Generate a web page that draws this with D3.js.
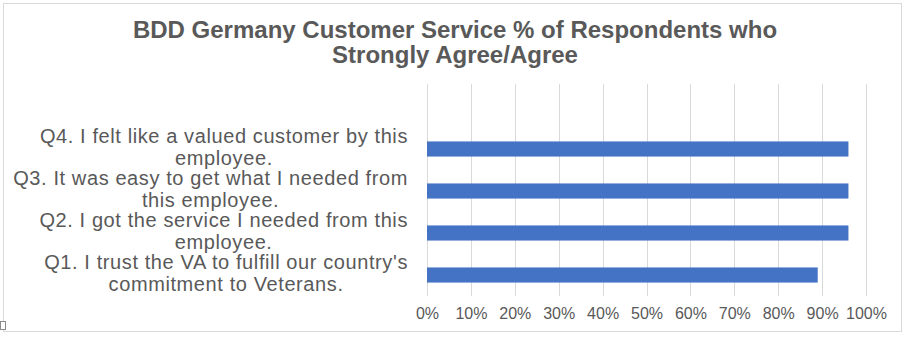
<!DOCTYPE html>
<html>
<head>
<meta charset="utf-8">
<script src="https://cdn.jsdelivr.net/npm/d3@7"></script>
<style>
  body { margin: 0; background: #fff; }
  text { font-family: "Liberation Sans", Arial, sans-serif; fill: #595959; }
</style>
</head>
<body>
<div id="chart"></div>
<script>
// data
const categories = [
  "Q1. I trust the VA to fulfill our country's|commitment to Veterans.",
  "Q2. I got the service I needed from this|employee.",
  "Q3. It was easy to get what I needed from|this employee.",
  "Q4. I felt like a valued customer by this|employee."
];
const values = [0.89, 0.96, 0.96, 0.96];
const ticks = [0, 0.1, 0.2, 0.3, 0.4, 0.5, 0.6, 0.7, 0.8, 0.9, 1.0];
const titleLines = ["BDD Germany Customer Service % of Respondents who", "Strongly Agree/Agree"];

let w = 909, h = 339;

let svg = d3.select('#chart').append('svg')
    .attr('width', w)
    .attr('height', h);

// chart frame
svg.append('rect')
    .attr('x', 3.5).attr('y', 3.5)
    .attr('width', 898).attr('height', 328)
    .attr('fill', '#fff')
    .attr('stroke', '#d9d9d9');

// little corner handle
svg.append('rect')
    .attr('x', 0.5).attr('y', 321.5)
    .attr('width', 5).attr('height', 8)
    .attr('fill', '#fff')
    .attr('stroke', '#8c8c8c');

svg.append('text')
    .attr('x', 455)
    .attr('text-anchor', 'middle')
    .style('font-size', '24px')
    .style('font-weight', 'bold')
    .selectAll('tspan')
    .data(titleLines)
    .enter().append('tspan')
    .attr('x', 455)
    .attr('y', (d, i) => 38 + i * 25)
    .text(d => d);

var x = d3.scaleLinear()
    .domain([0, 1])
    .range([427, 866]);

var y = d3.scaleBand()
    .domain(categories)
    .range([296, 128])
    .paddingInner(0.64)
    .paddingOuter(0.32);

// gridlines
svg.append('g')
    .selectAll('line')
    .data(ticks)
    .enter().append('line')
    .attr('x1', d => Math.round(x(d)) + 0.5)
    .attr('x2', d => Math.round(x(d)) + 0.5)
    .attr('y1', 84)
    .attr('y2', 296)
    .attr('stroke', '#d9d9d9');

// x axis labels
let xAxis = svg.append('g')
    .attr('transform', 'translate(0,296)')
    .call(d3.axisBottom(x).tickValues(ticks).tickFormat(d3.format('.0%')).tickSize(0).tickPadding(12));
xAxis.select('.domain').remove();
xAxis.selectAll('text')
    .style('font-size', '16px')
    .style('font-family', '"Liberation Sans", Arial, sans-serif')
    .attr('fill', '#595959');

// bars
svg.append('g')
    .selectAll('rect')
    .data(values)
    .enter().append('rect')
    .attr('x', x(0))
    .attr('y', (d, i) => y(categories[i]))
    .attr('width', d => x(d) - x(0))
    .attr('height', y.bandwidth())
    .attr('fill', '#4472C4');

// category labels, wrapped and centered as a block ending at x=408
let labels = svg.append('g')
    .selectAll('text')
    .data(categories)
    .enter().append('text')
    .style('font-size', '20px')
    .style('letter-spacing', '0.6px')
    .attr('text-anchor', 'middle');

labels.each(function(d) {
    let t = d3.select(this);
    let lines = d.split('|');
    let cy = y(d) + y.bandwidth() / 2;
    let spans = lines.map((l, i) => t.append('tspan')
        .attr('y', cy - 6.5 + i * 22)
        .text(l));
    let maxW = d3.max(spans, s => s.node().getComputedTextLength());
    spans.forEach(s => s.attr('x', 408 - maxW / 2));
});
</script>
</body>
</html>
